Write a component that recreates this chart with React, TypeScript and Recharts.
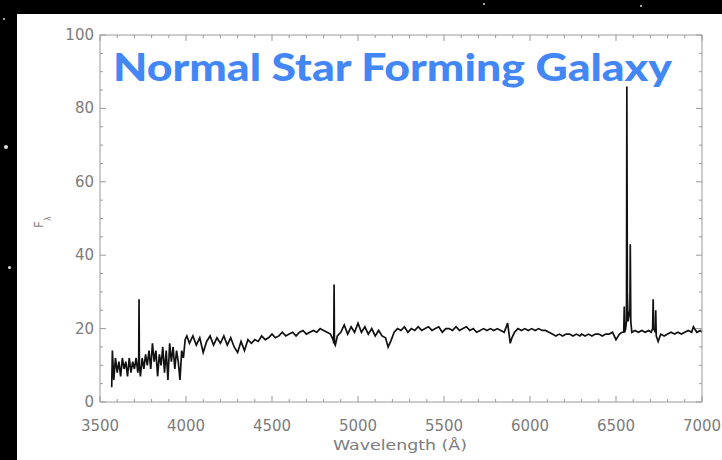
import React from 'react';
import { LineChart, Line, XAxis, YAxis } from 'recharts';

// x ticks every 100 Å, labels every 500 Å
const xTicks = [
  3500, 3600, 3700, 3800, 3900, 4000, 4100, 4200, 4300, 4400, 4500, 4600,
  4700, 4800, 4900, 5000, 5100, 5200, 5300, 5400, 5500, 5600, 5700, 5800,
  5900, 6000, 6100, 6200, 6300, 6400, 6500, 6600, 6700, 6800, 6900, 7000,
];
const xLabels = [3500, 4000, 4500, 5000, 5500, 6000, 6500, 7000];

// y ticks every 5, labels every 20
const yTicks = [0, 5, 10, 15, 20, 25, 30, 35, 40, 45, 50, 55, 60, 65, 70, 75, 80, 85, 90, 95, 100];
const yLabels = [0, 20, 40, 60, 80, 100];

// spectrum
const blueWl = [
  3568, 3572, 3580, 3590, 3600, 3610, 3620, 3630, 3640, 3650,
  3660, 3670, 3680, 3690, 3700, 3710, 3720, 3725, 3727, 3729,
  3735, 3745, 3755, 3765, 3775, 3785, 3795, 3805, 3815, 3825,
  3835, 3845, 3855, 3865, 3875, 3885, 3895, 3905, 3915, 3925,
  3935, 3945, 3955, 3965, 3975, 3985, 3995,
];
const blueFlux = [
  4, 14, 6, 12, 8, 11, 7, 12, 9, 11,
  7, 12, 8, 11, 9, 12, 8, 11, 28, 10,
  7, 12, 9, 13, 10, 14, 9, 16, 11, 14,
  7, 13, 10, 15, 8, 14, 6, 16, 11, 15,
  9, 14, 11, 6, 14, 12, 17,
];

const greenWl = [
  4005, 4020, 4040, 4060, 4080, 4100, 4120, 4140, 4160, 4180,
  4200, 4220, 4240, 4260, 4280, 4300, 4320, 4340, 4360, 4380,
  4400, 4420, 4440, 4460, 4480, 4500, 4520, 4540, 4560, 4580,
  4600, 4620, 4640, 4660, 4680, 4700, 4720, 4740, 4760, 4780,
  4800, 4820, 4840,
];
const greenFlux = [
  18, 16, 18, 15.5, 17.5, 13.5, 16.5, 18, 15.5, 17.5,
  16, 18, 15.5, 17.5, 15, 13.5, 16.5, 14, 17, 16,
  17, 16.5, 18, 17, 17.5, 18.5, 17.5, 18, 19, 18,
  18.5, 19, 18, 19, 19.5, 18.5, 19, 19.5, 19, 20,
  19.5, 19, 18.5,
];

const midWl = [
  4855, 4859, 4861, 4863, 4868, 4880, 4900, 4920, 4940, 4960,
  4980, 5000, 5020, 5040, 5060, 5080, 5100, 5120, 5140, 5160,
  5175, 5190, 5210, 5230, 5250, 5270, 5290, 5310, 5330, 5350,
  5370, 5390, 5410, 5430, 5450, 5470, 5490, 5510, 5530, 5550,
  5570, 5590, 5610, 5630, 5650, 5670, 5690, 5710, 5730, 5750,
  5770, 5790, 5810, 5830, 5850, 5870,
];
const midFlux = [
  17, 16, 32, 16, 15.5, 18, 19, 21, 18.5, 20.5,
  19, 21.5, 19, 20.5, 18.5, 20, 18, 19.5, 18, 17.5,
  15, 16.5, 19, 20, 19.5, 20.5, 19, 20, 19.5, 20.5,
  19.5, 20, 20.5, 19.5, 20, 20.5, 19, 20, 20, 19.5,
  20.5, 19.5, 20, 20.5, 19.5, 20, 19, 19.5, 20, 19.5,
  20, 19.5, 20, 19.5, 19, 21.5,
];

const redWl = [
  5885, 5895, 5910, 5930, 5950, 5970, 5990, 6010, 6030, 6050,
  6070, 6090, 6110, 6130, 6150, 6170, 6190, 6210, 6230, 6250,
  6270, 6290, 6300, 6320, 6340, 6360, 6380, 6400, 6420, 6440,
  6460, 6480, 6500, 6520, 6535, 6545,
];
const redFlux = [
  16, 17.5, 19, 20, 19.5, 20, 19.5, 20, 19.5, 20,
  19.5, 19.5, 19, 18.5, 18, 18.5, 18, 18.5, 18.5, 18,
  18.5, 18, 18.5, 18, 18.5, 18, 18.5, 18.5, 18, 18.5,
  18.5, 19, 17, 18.5, 19, 19,
];

// H-alpha, [NII], [SII] and the red end
const alphaWl = [
  6548, 6551, 6556, 6561, 6563, 6566, 6570, 6581, 6583, 6586,
  6592, 6610, 6630, 6650, 6670, 6690, 6705, 6713, 6716, 6719,
  6729, 6731, 6734, 6745, 6760, 6780, 6800, 6820, 6840, 6860,
  6880, 6900, 6920, 6940, 6950, 6970, 6990, 7000,
];
const alphaFlux = [
  26, 19, 20, 22, 86, 30, 22, 25, 43, 22,
  19, 19.5, 19, 19.5, 19, 19.5, 19, 20, 28, 20,
  19, 25, 18, 16.5, 18.5, 18, 18.5, 19, 18.5, 19,
  18.5, 19, 19.5, 19, 20.5, 19, 19.5, 19,
];

const segments: [number[], number[]][] = [
  [blueWl, blueFlux],
  [greenWl, greenFlux],
  [midWl, midFlux],
  [redWl, redFlux],
  [alphaWl, alphaFlux],
];

const data = segments.flatMap(([wl, flux]) => wl.map((w, i) => ({ wl: w, flux: flux[i] })));

const AXIS = '#9a9a9a';
const TEXT = '#7c7c7c';
const FONT = '"DejaVu Sans", sans-serif';

const BottomTick = (props: any) => {
  const { x, y, payload } = props;
  const major = xLabels.includes(payload.value);
  return (
    <g>
      <line x1={x} y1={y} x2={x} y2={y - (major ? 6 : 3)} stroke={AXIS} />
      {major && (
        <text x={x} y={y + 29} textAnchor="middle" fontSize={15} fill={TEXT} fontFamily={FONT}>
          {payload.value}
        </text>
      )}
    </g>
  );
};

const TopTick = (props: any) => {
  const { x, y, payload } = props;
  const major = xLabels.includes(payload.value);
  return <line x1={x} y1={y} x2={x} y2={y + (major ? 6 : 3)} stroke={AXIS} />;
};

const LeftTick = (props: any) => {
  const { x, y, payload } = props;
  const major = yLabels.includes(payload.value);
  return (
    <g>
      <line x1={x} y1={y} x2={x + (major ? 6 : 3)} y2={y} stroke={AXIS} />
      {major && (
        <text x={x - 6} y={y + 5} textAnchor="end" fontSize={15} fill={TEXT} fontFamily={FONT}>
          {payload.value}
        </text>
      )}
    </g>
  );
};

const RightTick = (props: any) => {
  const { x, y, payload } = props;
  const major = yLabels.includes(payload.value);
  return <line x1={x} y1={y} x2={x - (major ? 6 : 3)} y2={y} stroke={AXIS} />;
};

const stars = [
  { left: 4, top: 145, size: 4 },
  { left: 8, top: 266, size: 3 },
  { left: 3, top: 18, size: 2 },
  { left: 483, top: 3, size: 2 },
  { left: 640, top: 5, size: 2 },
];

export default function App() {
  return (
    <div style={{ position: 'absolute', left: 0, top: 0, width: 722, height: 460, background: '#000', overflow: 'hidden' }}>
      {stars.map((s, i) => (
        <div
          key={i}
          style={{ position: 'absolute', left: s.left, top: s.top, width: s.size, height: s.size, borderRadius: '50%', background: '#ddd' }}
        />
      ))}
      <div style={{ position: 'absolute', left: 17, top: 14, right: 0, bottom: 0, background: '#fff' }} />
      <div style={{ position: 'absolute', left: 0, top: 0 }}>
        <LineChart width={722} height={460} data={data} margin={{ top: 34, right: 19, bottom: 28, left: 40 }}>
          <XAxis
            dataKey="wl"
            type="number"
            domain={[3500, 7000]}
            ticks={xTicks}
            interval={0}
            allowDataOverflow
            height={30}
            stroke={AXIS}
            tickSize={0}
            tickMargin={0}
            tickLine={false}
            tick={<BottomTick />}
          />
          <XAxis
            xAxisId="top"
            orientation="top"
            dataKey="wl"
            type="number"
            domain={[3500, 7000]}
            ticks={xTicks}
            interval={0}
            allowDataOverflow
            height={1}
            stroke={AXIS}
            tickSize={0}
            tickMargin={0}
            tickLine={false}
            tick={<TopTick />}
          />
          <YAxis
            type="number"
            domain={[0, 100]}
            ticks={yTicks}
            interval={0}
            allowDataOverflow
            width={60}
            stroke={AXIS}
            tickSize={0}
            tickMargin={0}
            tickLine={false}
            tick={<LeftTick />}
          />
          <YAxis
            yAxisId="right"
            orientation="right"
            type="number"
            domain={[0, 100]}
            ticks={yTicks}
            interval={0}
            allowDataOverflow
            width={1}
            stroke={AXIS}
            tickSize={0}
            tickMargin={0}
            tickLine={false}
            tick={<RightTick />}
          />
          <Line
            type="linear"
            dataKey="flux"
            stroke="#111"
            strokeWidth={1.7}
            dot={false}
            isAnimationActive={false}
          />
        </LineChart>
      </div>
      <svg width={722} height={460} style={{ position: 'absolute', left: 0, top: 0, pointerEvents: 'none' }}>
        <text
          x={113}
          y={81}
          fontSize={38}
          fontWeight={900}
          fontFamily="Lato, sans-serif"
          fill="#4287f5"
          textLength={559}
          lengthAdjust="spacingAndGlyphs"
        >
          Normal Star Forming Galaxy
        </text>
        <text
          x={400}
          y={450}
          textAnchor="middle"
          fontSize={14}
          fontFamily={FONT}
          fill={TEXT}
          textLength={134}
          lengthAdjust="spacingAndGlyphs"
        >
          Wavelength (Å)
        </text>
        <text transform="translate(43,228) rotate(-90)" fontSize={12} fontFamily={FONT} fill={TEXT}>
          F
          <tspan dy={8} fontSize={8}>λ</tspan>
        </text>
      </svg>
    </div>
  );
}
